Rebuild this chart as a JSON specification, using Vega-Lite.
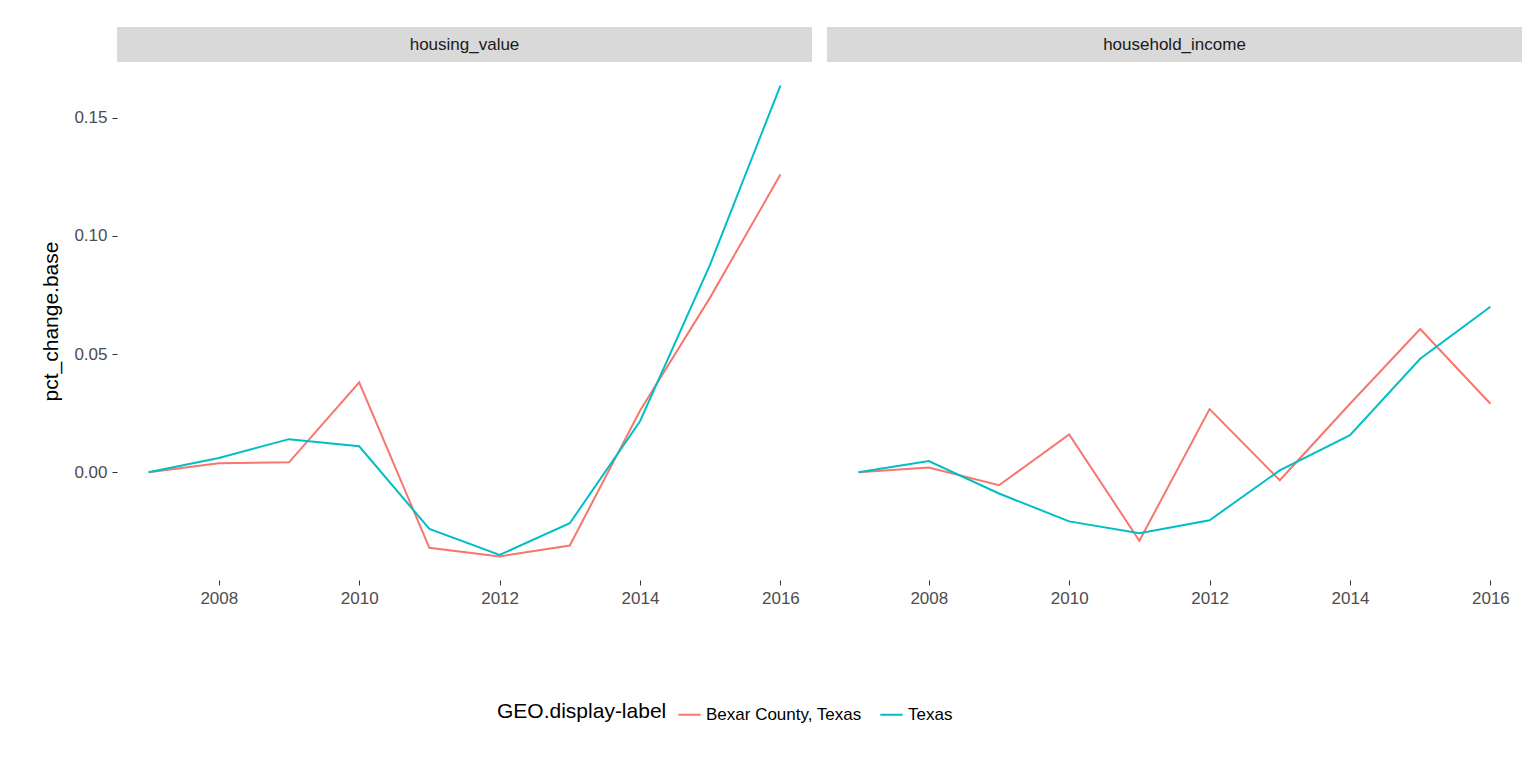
{
"$schema":"https://vega.github.io/schema/vega-lite/v6.json",
"background":"white",
"padding":{"left":40,"top":27,"right":10,"bottom":5},
"config":{"font":"Liberation Sans","view":{"stroke":null},
"axis":{"grid":false,"domain":false,"labelColor":"#4d4d4d","labelFontSize":17,"tickColor":"#333333","tickSize":5,"titleFontSize":21,"titleFontWeight":"normal","titleColor":"black","labelPadding":5},
"legend":{"orient":"none","legendX":380,"legendY":675,"direction":"horizontal","titleOrient":"left","titleFontSize":21,"titleFontWeight":"normal","titleColor":"black","labelFontSize":17,"labelColor":"black","symbolType":"stroke","symbolStrokeWidth":2,"symbolSize":500,"titlePadding":10,"columnPadding":14}},
"datasets":{"d":[
{"panel":"housing_value","geo":"Bexar County, Texas","year":2007,"v":0},
{"panel":"housing_value","geo":"Bexar County, Texas","year":2008,"v":0.0038},
{"panel":"housing_value","geo":"Bexar County, Texas","year":2009,"v":0.0042},
{"panel":"housing_value","geo":"Bexar County, Texas","year":2010,"v":0.038},
{"panel":"housing_value","geo":"Bexar County, Texas","year":2011,"v":-0.032},
{"panel":"housing_value","geo":"Bexar County, Texas","year":2012,"v":-0.0356},
{"panel":"housing_value","geo":"Bexar County, Texas","year":2013,"v":-0.031},
{"panel":"housing_value","geo":"Bexar County, Texas","year":2014,"v":0.026},
{"panel":"housing_value","geo":"Bexar County, Texas","year":2015,"v":0.074},
{"panel":"housing_value","geo":"Bexar County, Texas","year":2016,"v":0.126},
{"panel":"housing_value","geo":"Texas","year":2007,"v":0},
{"panel":"housing_value","geo":"Texas","year":2008,"v":0.006},
{"panel":"housing_value","geo":"Texas","year":2009,"v":0.014},
{"panel":"housing_value","geo":"Texas","year":2010,"v":0.011},
{"panel":"housing_value","geo":"Texas","year":2011,"v":-0.024},
{"panel":"housing_value","geo":"Texas","year":2012,"v":-0.035},
{"panel":"housing_value","geo":"Texas","year":2013,"v":-0.0216},
{"panel":"housing_value","geo":"Texas","year":2014,"v":0.0216},
{"panel":"housing_value","geo":"Texas","year":2015,"v":0.088},
{"panel":"housing_value","geo":"Texas","year":2016,"v":0.1636},
{"panel":"household_income","geo":"Bexar County, Texas","year":2007,"v":0},
{"panel":"household_income","geo":"Bexar County, Texas","year":2008,"v":0.002},
{"panel":"household_income","geo":"Bexar County, Texas","year":2009,"v":-0.0055},
{"panel":"household_income","geo":"Bexar County, Texas","year":2010,"v":0.016},
{"panel":"household_income","geo":"Bexar County, Texas","year":2011,"v":-0.029},
{"panel":"household_income","geo":"Bexar County, Texas","year":2012,"v":0.0267},
{"panel":"household_income","geo":"Bexar County, Texas","year":2013,"v":-0.0034},
{"panel":"household_income","geo":"Bexar County, Texas","year":2014,"v":0.029},
{"panel":"household_income","geo":"Bexar County, Texas","year":2015,"v":0.0606},
{"panel":"household_income","geo":"Bexar County, Texas","year":2016,"v":0.029},
{"panel":"household_income","geo":"Texas","year":2007,"v":0},
{"panel":"household_income","geo":"Texas","year":2008,"v":0.0047},
{"panel":"household_income","geo":"Texas","year":2009,"v":-0.009},
{"panel":"household_income","geo":"Texas","year":2010,"v":-0.0208},
{"panel":"household_income","geo":"Texas","year":2011,"v":-0.0258},
{"panel":"household_income","geo":"Texas","year":2012,"v":-0.0203},
{"panel":"household_income","geo":"Texas","year":2013,"v":0.0008},
{"panel":"household_income","geo":"Texas","year":2014,"v":0.0157},
{"panel":"household_income","geo":"Texas","year":2015,"v":0.048},
{"panel":"household_income","geo":"Texas","year":2016,"v":0.07}
]},
"hconcat":[
{"spacing":0,"vconcat":[
 {"width":695,"height":35,"view":{"fill":"#d9d9d9"},"data":{"values":[{"label":"housing_value"}]},
  "mark":{"type":"text","fontSize":17,"color":"#1a1a1a"},"encoding":{"text":{"field":"label"}}},
 {"width":695,"height":518,"data":{"name":"d"},"transform":[{"filter":"datum.panel==='housing_value'"}],
  "mark":{"type":"line","strokeWidth":2},
  "encoding":{
   "x":{"field":"year","type":"quantitative","scale":{"domain":[2006.55,2016.45],"nice":false,"zero":false},"axis":{"values":[2008,2010,2012,2014,2016],"format":"d","title":null}},
   "y":{"field":"v","type":"quantitative","scale":{"domain":[-0.0456,0.1736],"nice":false,"zero":false},"axis":{"values":[0,0.05,0.1,0.15],"format":".2f","title":"pct_change.base","titlePadding":12}},
   "color":{"field":"geo","type":"nominal","scale":{"range":["#f8766d","#00bfc4"]},"title":"GEO.display-label"}}}
]},
{"spacing":0,"vconcat":[
 {"width":695,"height":35,"view":{"fill":"#d9d9d9"},"data":{"values":[{"label":"household_income"}]},
  "mark":{"type":"text","fontSize":17,"color":"#1a1a1a"},"encoding":{"text":{"field":"label"}}},
 {"width":695,"height":518,"data":{"name":"d"},"transform":[{"filter":"datum.panel==='household_income'"}],
  "mark":{"type":"line","strokeWidth":2},
  "encoding":{
   "x":{"field":"year","type":"quantitative","scale":{"domain":[2006.55,2016.45],"nice":false,"zero":false},"axis":{"values":[2008,2010,2012,2014,2016],"format":"d","title":null}},
   "y":{"field":"v","type":"quantitative","scale":{"domain":[-0.0456,0.1736],"nice":false,"zero":false},"axis":null},
   "color":{"field":"geo","type":"nominal","scale":{"range":["#f8766d","#00bfc4"]},"title":"GEO.display-label"}}}
]}
],
"spacing":15
}
